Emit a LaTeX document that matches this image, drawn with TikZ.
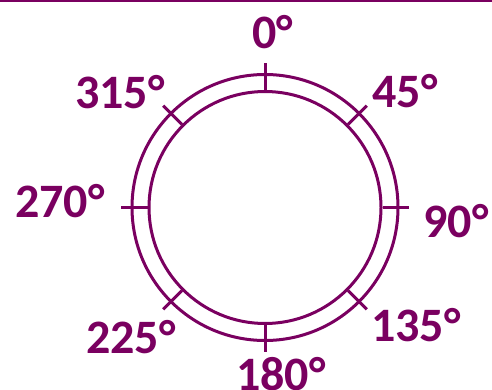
\documentclass[tikz,border=0pt]{standalone}
\usepackage{fontspec}
\setmainfont{Carlito}
\usetikzlibrary{calc}
\definecolor{plum}{RGB}{122,0,96}
\tikzset{
  ring/.style={circle, draw=plum, line width=3pt, inner sep=0pt},
  tick/.style={draw=plum, line width=3pt},
  deg/.style={text=plum, font=\fontsize{48}{48}\selectfont\bfseries, inner sep=0pt, anchor=center}
}
\begin{document}
\begin{tikzpicture}[x=1pt,y=-1pt]
\useasboundingbox (0,0) rectangle (492,390);
\coordinate (tl) at (0,0.8);
\coordinate (tr) at (492,0.8);
\draw[plum, line width=1.6pt] (tl) -- (tr);
\coordinate (c) at (265,207.5);
\node[ring, minimum size=266pt] (outer) at (c) {};
\node[ring, minimum size=232pt] (inner) at (c) {};
\foreach \a/\n in {90/t0,45/t45,0/t90,-45/t135,-90/t180,-135/t225,180/t270,135/t315}{
  \coordinate (\n) at ($(c)+(\a:144pt)$);
  \draw[tick] (inner.\a) -- (\n);
}
\node[deg] (l0) at (273,32) {0°};
\node[deg] (l45) at (405,91) {45°};
\node[deg] (l90) at (456,221) {90°};
\node[deg] (l135) at (416,325) {135°};
\node[deg] (l180) at (281,374) {180°};
\node[deg] (l225) at (131,337) {225°};
\node[deg] (l270) at (60,201) {270°};
\node[deg] (l315) at (120,92.5) {315°};
\end{tikzpicture}
\end{document}
